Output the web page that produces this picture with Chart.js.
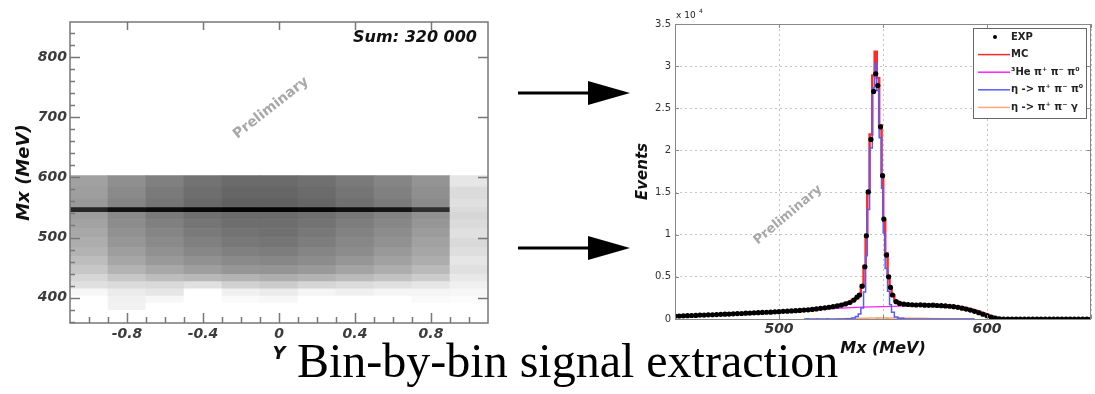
<!DOCTYPE html>
<html>
<head>
<meta charset="utf-8">
<script src="https://cdn.jsdelivr.net/npm/chart.js@4.4.0/dist/chart.umd.min.js"></script>
<style>
  html, body { margin: 0; padding: 0; background: #fff; }
  #page { position: relative; width: 1095px; height: 394px; overflow: hidden; }
  #mapChart { position: absolute; left: 0; top: 0; }
  #fitChart { position: absolute; left: 620px; top: 0; }
  #arrows { position: absolute; left: 0; top: 0; }
  #caption { position: absolute; left: 297px; top: 337px; font: 48px "Liberation Serif", "Times New Roman", serif; line-height: 48px; color: #000; white-space: nowrap; }
</style>
</head>
<body>
<div id="page">
  <canvas id="mapChart" width="520" height="370"></canvas>
  <canvas id="fitChart" width="475" height="362"></canvas>
  <svg id="arrows" width="1095" height="394">
    <line x1="518" y1="93" x2="592" y2="93" stroke="#000" stroke-width="3"/>
    <polygon points="588,81 630,93 588,105" fill="#000"/>
    <line x1="518" y1="248" x2="592" y2="248" stroke="#000" stroke-width="3"/>
    <polygon points="588,236 630,248 588,260" fill="#000"/>
  </svg>
  <div id="caption">Bin-by-bin signal extraction</div>
</div>
<script>
// ---- left: Mx vs Y map (grey levels = darkness in %) ----
var yBinCenters = [-1.0, -0.8, -0.6, -0.4, -0.2, 0, 0.2, 0.4, 0.6, 0.8, 1.0];
var mxBandEdges = [603, 585, 565, 551, 543, 530, 515, 500, 485, 470, 455, 440, 428, 416, 404, 392, 380];
var darkness = [
  [37, 44, 50, 55, 58, 58, 56, 52, 48, 42, 10],
  [38, 46, 52, 57, 60, 60, 58, 54, 50, 44, 14],
  [40, 48, 54, 59, 62, 62, 60, 56, 52, 46, 12],
  [85, 93, 95, 97, 98, 98, 97, 94, 92, 82, 14],
  [38, 46, 52, 56, 58, 58, 56, 53, 49, 43, 16],
  [36, 45, 50, 54, 57, 57, 55, 51, 47, 41, 14],
  [34, 43, 48, 52, 55, 56, 53, 49, 45, 39, 12],
  [32, 41, 46, 50, 53, 54, 51, 47, 43, 37, 15],
  [30, 38, 43, 47, 50, 51, 48, 45, 40, 35, 13],
  [26, 35, 40, 43, 46, 47, 45, 41, 37, 32, 10],
  [22, 30, 34, 38, 41, 42, 40, 36, 32, 27, 12],
  [16, 22, 26, 28, 30, 32, 30, 27, 24, 20, 9],
  [12, 14, 15, 12, 18, 20, 16, 14, 12, 10, 6],
  [3, 8, 10, 0, 6, 8, 4, 6, 4, 4, 3],
  [0, 6, 3, 0, 2, 3, 0, 0, 0, 2, 1],
  [0, 5, 0, 0, 0, 0, 0, 0, 0, 0, 0]
];
var mapYTicks = [-0.8, -0.4, 0, 0.4, 0.8];
var mapMxTicks = [400, 500, 600, 700, 800];
var sumText = 'Sum: 320 000';

// ---- right: Mx spectrum ----
var expMx = [450, 452, 454, 456, 458, 460, 462, 464, 466, 468, 470, 472, 474, 476, 478, 480, 482, 484, 486, 488, 490, 492,
  494, 496, 498, 500, 502, 504, 506, 508, 510, 512, 514, 516, 518, 520, 522, 524, 526, 528, 530, 532, 534, 536,
  537.5, 538.7, 540, 541.3, 542, 542.9, 544.2, 545.5, 546.5, 547.5, 548.8, 549.8, 550.4, 551.7, 552.7, 553.6, 554.6, 556.3,
  558, 560, 562, 564, 566, 568, 570, 572, 574, 576, 578, 580, 582, 584, 586, 588, 590, 592, 594, 596, 598, 600, 602, 604, 606,
  608, 610, 612, 614, 616, 618, 620, 622, 624, 626, 628, 630, 632, 634, 636, 638, 640, 642, 644, 646, 648, 650];
var expEvents = [340, 355, 380, 390, 415, 430, 465, 470, 495, 505, 525, 550, 575, 590, 615, 640, 655, 690, 700, 735, 745, 775,
  800, 815, 850, 865, 905, 925, 955, 990, 1020, 1055, 1085, 1140, 1195, 1265, 1320, 1395, 1460, 1555, 1650, 1790, 1960, 2250,
  2600, 2850, 3900, 6200, 9870, 15080, 21300, 27000, 29100, 27700, 22800, 17000, 11850, 7580, 5000, 3750, 2850, 2050,
  1850, 1760, 1720, 1690, 1660, 1680, 1640, 1620, 1640, 1600, 1580, 1550, 1510, 1460, 1380, 1290, 1180, 1060, 910, 750, 570, 400, 240, 100, 20,
  0, 0, 0, 0, 0, 0, 0, 0, 0, 0, 0, 0, 0, 0, 0, 0, 0, 0, 0, 0, 0, 0];
var mcEvents = [330, 350, 370, 390, 410, 430, 450, 470, 490, 510, 530, 550, 570, 590, 610, 635, 655, 680, 700, 725, 750, 770,
  795, 820, 845, 870, 900, 925, 955, 985, 1015, 1050, 1090, 1135, 1190, 1250, 1315, 1385, 1460, 1550, 1660, 1800, 1990, 2280,
  2450, 2950, 4000, 6300, 10000, 15100, 21900, 28900, 31700, 28600, 23000, 17000, 11700, 7800, 5100, 3700, 2800, 2100,
  1880, 1790, 1750, 1720, 1700, 1700, 1680, 1660, 1660, 1640, 1620, 1590, 1550, 1500, 1430, 1350, 1250, 1130, 980, 820, 640, 460, 290, 140, 30,
  0, 0, 0, 0, 0, 0, 0, 0, 0, 0, 0, 0, 0, 0, 0, 0, 0, 0, 0, 0, 0, 0];
var heMx = [450, 455, 460, 465, 470, 475, 480, 485, 490, 495, 500, 505, 510, 515, 520, 525, 530, 535, 540, 545, 550, 555,
  560, 565, 570, 575, 580, 585, 590, 595, 600, 605, 608];
var heEvents = [320, 360, 410, 460, 510, 560, 610, 670, 730, 790, 850, 920, 990, 1070, 1150, 1230, 1300, 1360, 1400, 1440,
  1470, 1500, 1560, 1610, 1610, 1580, 1520, 1420, 1220, 900, 520, 130, 0];
var etaPi0Mx = [512, 530, 534, 536, 537.5, 538.7, 540, 541.3, 542, 542.9, 544.2, 545.5, 546.5, 547.5, 548.8, 549.8, 550.4,
  551.7, 552.7, 553.6, 554.6, 556.3, 558, 562, 594];
var etaPi0Events = [0, 0, 40, 120, 300, 600, 1300, 3200, 7500, 13000, 20300, 27400, 30300, 27100, 21500, 15500, 10200,
  6000, 3300, 1700, 800, 250, 80, 0, 0];
var etaGammaMx = [528, 540, 548, 556, 566, 580, 594];
var etaGammaEvents = [30, 100, 160, 130, 80, 30, 0];
var otherMx = [513, 592];
var otherEvents = [0, 0];
var mxTickLabels = [500, 600];

function pts(xs, ys) {
  return xs.map(function (x, i) { return { x: x, y: ys[i] }; });
}
function fixedTicks(values) {
  return function (scale) { scale.ticks = values.map(function (v) { return { value: v }; }); };
}

Chart.defaults.font.family = '"DejaVu Sans", sans-serif';
var boldItalic = function (size) { return { family: '"DejaVu Sans", sans-serif', size: size, weight: 'bold', style: 'italic' }; };

// ---------- left chart ----------
var bandSets = [];
for (var b = 0; b < mxBandEdges.length - 1; b++) {
  var hi = mxBandEdges[b], lo = mxBandEdges[b + 1];
  bandSets.push({
    data: yBinCenters.map(function (c) { return { x: c, y: [lo, hi] }; }),
    backgroundColor: darkness[b].map(function (d) {
      var g = Math.round(255 * (1 - d / 100));
      return 'rgb(' + g + ',' + g + ',' + g + ')';
    }),
    borderWidth: 0,
    grouped: false,
    barPercentage: 1,
    categoryPercentage: 1
  });
}

var mapDecor = {
  id: 'mapDecor',
  afterDatasetsDraw: function (chart) {
    var ctx = chart.ctx, a = chart.chartArea, x = chart.scales.x, y = chart.scales.y;
    ctx.save();
    ctx.strokeStyle = '#777';
    ctx.lineWidth = 1.5;
    ctx.strokeRect(a.left, a.top, a.right - a.left, a.bottom - a.top);
    ctx.beginPath();
    for (var v = 360; v <= 850; v += 20) {
      var py = Math.round(y.getPixelForValue(v)) + 0.5;
      var major = v % 100 === 0;
      ctx.moveTo(a.left, py); ctx.lineTo(a.left + (major ? 10 : 5), py);
      if (major) { ctx.moveTo(a.right, py); ctx.lineTo(a.right - 10, py); }
    }
    for (var i = -10; i <= 10; i++) {
      var px = Math.round(x.getPixelForValue(i / 10)) + 0.5;
      var maj = i % 4 === 0;
      ctx.moveTo(px, a.bottom); ctx.lineTo(px, a.bottom - (maj ? 10 : 6));
      if (maj) { ctx.moveTo(px, a.top); ctx.lineTo(px, a.top + 8); }
    }
    ctx.stroke();
    ctx.restore();
  },
  afterDraw: function (chart) {
    var ctx = chart.ctx, a = chart.chartArea;
    ctx.save();
    ctx.fillStyle = '#111';
    ctx.font = 'italic bold 16px "DejaVu Sans"';
    ctx.textAlign = 'right';
    ctx.textBaseline = 'alphabetic';
    ctx.fillText(sumText, a.right - 11, a.top + 20);
    ctx.translate(a.left + 201, a.top + 86);
    ctx.rotate(-38 * Math.PI / 180);
    ctx.textAlign = 'center';
    ctx.textBaseline = 'middle';
    ctx.fillStyle = '#a8a8a8';
    ctx.font = 'bold 14px "DejaVu Sans"';
    ctx.fillText('Preliminary', 0, 0);
    ctx.restore();
  }
};

new Chart(document.getElementById('mapChart'), {
  type: 'bar',
  data: { datasets: bandSets },
  options: {
    responsive: false,
    animation: false,
    layout: { padding: { top: 22, right: 32, left: 0, bottom: 0 } },
    plugins: { legend: { display: false }, tooltip: { enabled: false } },
    scales: {
      x: {
        type: 'linear', min: -1.1, max: 1.1, offset: false,
        grid: { display: false, drawTicks: false },
        border: { display: false },
        ticks: { padding: 3, color: '#3c3c3c', font: boldItalic(14), maxRotation: 0 },
        afterBuildTicks: fixedTicks(mapYTicks),
        title: { display: true, text: 'Y', color: '#111', font: boldItalic(18), padding: { top: 0, bottom: 5 } },
        afterFit: function (s) { s.height = 47; }
      },
      y: {
        type: 'linear', min: 358, max: 858,
        grid: { display: false, drawTicks: false },
        border: { display: false },
        ticks: { padding: 3, color: '#3c3c3c', font: boldItalic(14) },
        afterBuildTicks: fixedTicks(mapMxTicks),
        title: { display: true, text: 'Mx (MeV)', color: '#111', font: boldItalic(18), padding: { top: 14, bottom: 0 } },
        afterFit: function (s) { s.width = 70; }
      }
    }
  },
  plugins: [mapDecor]
});

// ---------- right chart ----------
var fitDecor = {
  id: 'fitDecor',
  afterDatasetsDraw: function (chart) {
    var ctx = chart.ctx, a = chart.chartArea, x = chart.scales.x, y = chart.scales.y;
    ctx.save();
    ctx.strokeStyle = '#888';
    ctx.lineWidth = 1;
    ctx.strokeRect(a.left + 0.5, a.top + 0.5, a.right - a.left - 1, a.bottom - a.top);
    ctx.beginPath();
    x.ticks.forEach(function (t) {
      var px = Math.round(x.getPixelForValue(t.value)) + 0.5;
      ctx.moveTo(px, a.bottom); ctx.lineTo(px, a.bottom - 4);
      ctx.moveTo(px, a.top); ctx.lineTo(px, a.top + 4);
    });
    y.ticks.forEach(function (t) {
      var py = Math.round(y.getPixelForValue(t.value)) + 0.5;
      ctx.moveTo(a.left, py); ctx.lineTo(a.left + 4, py);
      ctx.moveTo(a.right, py); ctx.lineTo(a.right - 4, py);
    });
    ctx.stroke();
    ctx.restore();
  },
  afterDraw: function (chart) {
    var ctx = chart.ctx, a = chart.chartArea;
    ctx.save();
    // x 10^4
    ctx.fillStyle = '#222';
    ctx.font = '9px "DejaVu Sans"';
    ctx.textBaseline = 'alphabetic';
    ctx.fillText('x 10', a.left + 1, a.top - 6);
    ctx.font = '6px "DejaVu Sans"';
    ctx.fillText('4', a.left + 24, a.top - 11);
    // watermark
    ctx.save();
    ctx.translate(a.left + 113, a.top + 191);
    ctx.rotate(-40 * Math.PI / 180);
    ctx.textAlign = 'center';
    ctx.textBaseline = 'middle';
    ctx.fillStyle = '#a8a8a8';
    ctx.font = 'bold 13px "DejaVu Sans"';
    ctx.fillText('Preliminary', 0, 0);
    ctx.restore();
    // legend box
    var bx = a.right - 118, by = a.top + 4, bw = 113, bh = 90;
    ctx.fillStyle = '#fff';
    ctx.fillRect(bx, by, bw, bh);
    ctx.strokeStyle = '#666';
    ctx.lineWidth = 1;
    ctx.strokeRect(bx + 0.5, by + 0.5, bw, bh);
    ctx.font = 'bold 10px "DejaVu Sans"';
    ctx.textAlign = 'left';
    ctx.textBaseline = 'middle';
    var row = 0;
    chart.data.datasets.forEach(function (ds) {
      if (!ds.label) return;
      var ly = by + 9 + row * 17.6;
      if (ds.showLine === false) {
        ctx.fillStyle = ds.pointBackgroundColor;
        ctx.beginPath();
        ctx.arc(bx + 22, ly, 2, 0, Math.PI * 2);
        ctx.fill();
      } else {
        ctx.strokeStyle = ds.borderColor;
        ctx.lineWidth = 1.5;
        ctx.beginPath();
        ctx.moveTo(bx + 5, ly); ctx.lineTo(bx + 37, ly);
        ctx.stroke();
      }
      ctx.fillStyle = '#222';
      ctx.fillText(ds.label, bx + 38, ly);
      row++;
    });
    ctx.restore();
  }
};

new Chart(document.getElementById('fitChart'), {
  type: 'line',
  data: {
    datasets: [
      { label: 'EXP', data: pts(expMx, expEvents), showLine: false, pointRadius: 2.6, pointBackgroundColor: '#000',
        pointBorderWidth: 0, order: 0 },
      { label: 'MC', data: pts(expMx, mcEvents), borderColor: '#ff2a2a', borderWidth: 2.5, pointRadius: 0,
        stepped: 'middle', order: 3 },
      { label: '³He π⁺ π⁻ π⁰', data: pts(heMx, heEvents), borderColor: '#ff20ff', borderWidth: 1.2, pointRadius: 0,
        order: 2 },
      { label: 'η -> π⁺ π⁻ π⁰', data: pts(etaPi0Mx, etaPi0Events), borderColor: '#5a5aff', borderWidth: 1.5,
        pointRadius: 0, stepped: 'middle', order: 1 },
      { label: 'η -> π⁺ π⁻ γ', data: pts(etaGammaMx, etaGammaEvents), borderColor: '#ffa878', borderWidth: 1.5,
        pointRadius: 0, order: 4 },
      { data: pts(otherMx, otherEvents), borderColor: '#3cc03c', borderWidth: 1.5, borderDash: [3, 7],
        pointRadius: 0, order: 5 }
    ]
  },
  options: {
    responsive: false,
    animation: false,
    layout: { padding: { top: 24, right: 2, left: 0, bottom: 0 } },
    plugins: { legend: { display: false }, tooltip: { enabled: false } },
    scales: {
      x: {
        type: 'linear', min: 450, max: 650,
        grid: { color: '#c4c4c4', lineWidth: 1, drawTicks: false },
        border: { display: false, dash: [2, 3] },
        ticks: {
          stepSize: 50, padding: 2, color: '#333', font: boldItalic(14), maxRotation: 0,
          callback: function (v) { return mxTickLabels.indexOf(v) >= 0 ? String(v) : ''; }
        },
        title: { display: true, text: 'Mx (MeV)', color: '#111', font: boldItalic(16), padding: { top: 0, bottom: 4 } },
        afterFit: function (s) { s.height = 43; }
      },
      y: {
        type: 'linear', min: 0, max: 35000,
        grid: { color: '#c4c4c4', lineWidth: 1, drawTicks: false },
        border: { display: false, dash: [2, 3] },
        ticks: {
          stepSize: 5000, padding: 4, color: '#333', font: { size: 10 },
          callback: function (v) { return String(v / 10000); }
        },
        title: { display: true, text: 'Events', color: '#111', font: boldItalic(15), padding: { top: 14, bottom: 0 } },
        afterFit: function (s) { s.width = 55; }
      }
    }
  },
  plugins: [fitDecor]
});
</script>
</body>
</html>
